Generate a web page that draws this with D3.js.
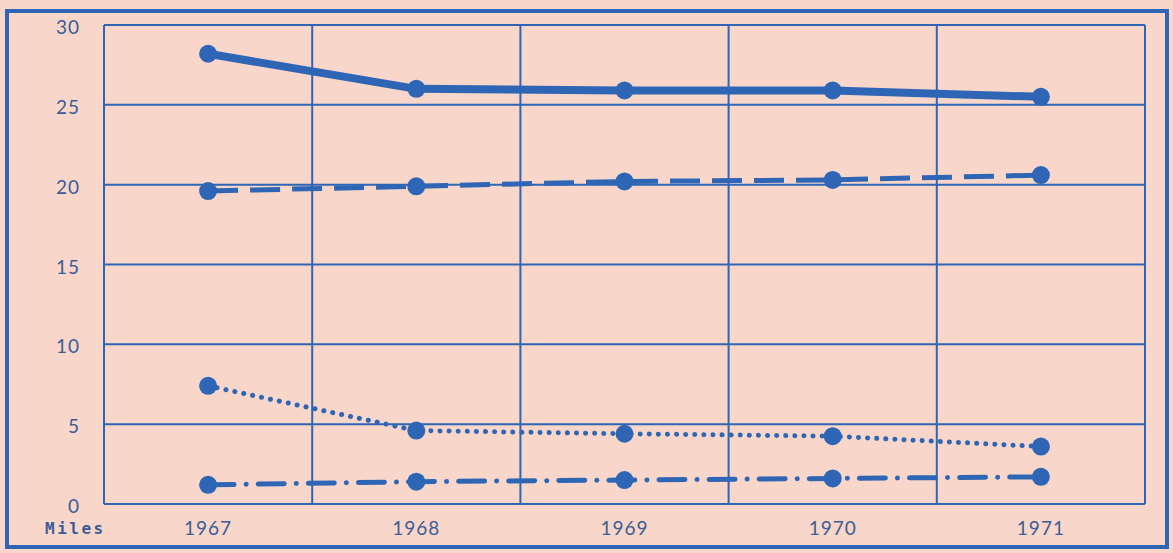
<!DOCTYPE html>
<html><head><meta charset="utf-8">
<script src="https://cdn.jsdelivr.net/npm/d3@7"></script>
<style>
html,body{margin:0;padding:0;background:#f8d6ca;}
svg{display:block;}
text{font-family:Lato,"Open Sans",sans-serif;fill:#3a5d98;}
</style></head>
<body>
<script>
const years = ["1967","1968","1969","1970","1971"];
const seriesA = [28.2, 26.0, 25.9, 25.9, 25.5];   // solid
const seriesB = [19.6, 19.9, 20.2, 20.3, 20.6];   // dashed
const seriesC = [7.4, 4.6, 4.4, 4.25, 3.6];       // dotted
const seriesD = [1.2, 1.4, 1.5, 1.6, 1.7];        // dash-dot
const yTicks = [0, 5, 10, 15, 20, 25, 30];
const unitLabel = "Miles";

(function(){
const W = 1173, H = 553;
const blue = "#2e66b5";
const svg = d3.select("body").append("svg").attr("width", W).attr("height", H);
svg.append("rect").attr("width", W).attr("height", H).attr("fill", "#f8d6ca");

// outer frame
svg.append("rect").attr("x", 7).attr("y", 11).attr("width", 1160).attr("height", 536)
  .attr("fill", "none").attr("stroke", blue).attr("stroke-width", 4);

const pL = 104, pR = 1145, pT = 25, pB = 504;
const x = d3.scaleBand().domain(years).range([pL, pR]);
const y = d3.scaleLinear().domain([0, 30]).range([pB, pT]);

// horizontal grid
svg.append("g").selectAll("line").data(yTicks).join("line")
  .attr("x1", pL).attr("x2", pR)
  .attr("y1", d => y(d)).attr("y2", d => y(d))
  .attr("stroke", blue).attr("stroke-width", 2);
// vertical grid (band edges)
const edges = years.map(d => x(d)).concat([pR]);
svg.append("g").selectAll("line").data(edges).join("line")
  .attr("x1", d => d).attr("x2", d => d)
  .attr("y1", pT).attr("y2", pB)
  .attr("stroke", blue).attr("stroke-width", 2);

// y labels
svg.append("g").selectAll("text").data(yTicks).join("text")
  .attr("x", 80).attr("y", d => y(d)).attr("dy", "0.48em")
  .attr("text-anchor", "end").attr("font-size", 19).attr("letter-spacing", 1)
  .text(d => d);
// x labels
svg.append("g").selectAll("text").data(years).join("text")
  .attr("x", d => x(d) + x.bandwidth() / 2).attr("y", 528).attr("dy", "0.36em")
  .attr("text-anchor", "middle").attr("font-size", 19).attr("letter-spacing", 1)
  .text(d => d);
svg.append("text").attr("x", 45).attr("y", 528).attr("dy", "0.36em")
  .style("font-family", "'DejaVu Sans Mono',monospace").attr("font-weight", "bold")
  .attr("font-size", 16).attr("letter-spacing", 2.5).text(unitLabel);

const cx = d => x(d) + x.bandwidth() / 2;
const line = d3.line().x((v, i) => cx(years[i])).y(v => y(v));

const styles = [
  {data: seriesA, w: 8, dash: null, cap: "round"},
  {data: seriesB, w: 5, dash: "30 12", cap: "butt"},
  {data: seriesC, w: 5, dash: "0.1 9", cap: "round"},
  {data: seriesD, w: 5, dash: "26 12 0.1 12", cap: "round"}
];
styles.forEach(s => {
  svg.append("path").attr("d", line(s.data)).attr("fill", "none")
    .attr("stroke", blue).attr("stroke-width", s.w)
    .attr("stroke-linecap", s.cap).attr("stroke-linejoin", "round")
    .attr("stroke-dasharray", s.dash);
  svg.append("g").selectAll("circle").data(s.data).join("circle")
    .attr("cx", (v, i) => cx(years[i])).attr("cy", v => y(v)).attr("r", 9)
    .attr("fill", blue);
});
})();
</script>
</body></html>
